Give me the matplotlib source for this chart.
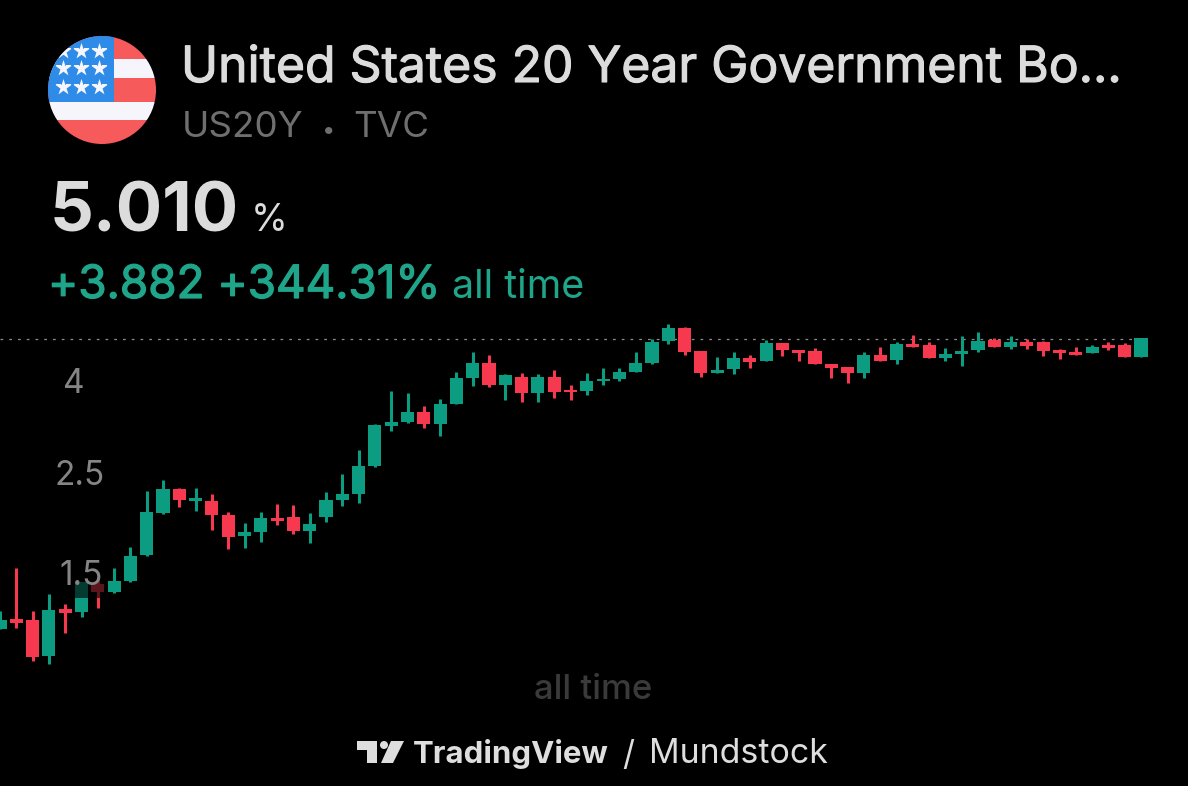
import math
import matplotlib
matplotlib.use('Agg')
import matplotlib.pyplot as plt
import matplotlib.patheffects as pe
from matplotlib.patches import Circle, Rectangle, Polygon

# ---- data (yield, %) ----
highs = [1.250,1.552,1.250,1.361,1.293,1.447,1.526,1.557,1.733,2.304,2.441,2.343,2.336,2.266,2.067,1.960,2.073,2.156,2.148,2.056,2.292,2.513,2.841,3.245,
         3.847,3.802,3.563,3.681,4.233,4.688,4.610,4.183,4.205,4.183,4.270,3.961,4.205,4.327,4.327,4.681,5.018,5.401,5.319,4.719,4.563,4.681,4.624,4.984,
         4.916,4.736,4.785,4.416,4.335,4.695,4.802,4.926,5.106,4.934,4.792,5.087,5.184,5.028,5.087,5.002,4.967,4.753,4.802,4.851,4.926,4.901,5.036]
tops = [1.192,1.196,1.190,1.256,1.259,1.445,1.433,1.457,1.656,2.070,2.331,2.328,2.223,2.193,2.041,1.866,2.004,2.007,2.014,1.950,2.197,2.266,2.622,3.228,
        3.278,3.450,3.455,3.594,4.105,4.425,4.425,4.168,4.126,4.132,4.132,3.867,4.042,4.090,4.239,4.432,4.926,5.308,5.308,4.705,4.283,4.539,4.539,4.916,
        4.916,4.736,4.705,4.416,4.335,4.617,4.610,4.884,4.884,4.866,4.640,4.719,4.951,4.977,4.926,4.926,4.934,4.736,4.681,4.809,4.866,4.851,5.028]
bottoms = [1.138,1.172,0.985,0.990,1.235,1.242,1.373,1.373,1.455,1.664,2.056,2.204,2.193,2.038,1.824,1.828,1.872,1.974,1.875,1.878,2.021,2.197,2.266,2.622,
           3.217,3.278,3.240,3.250,3.600,4.105,3.954,3.961,3.796,3.796,3.821,3.816,3.841,4.042,4.084,4.239,4.425,4.967,4.695,4.205,4.205,4.291,4.454,4.484,
           4.743,4.664,4.409,4.313,4.205,4.205,4.470,4.500,4.809,4.546,4.553,4.633,4.736,4.802,4.802,4.841,4.719,4.671,4.610,4.671,4.792,4.577,4.563]
lows = [1.138,1.142,0.965,0.950,1.114,1.208,1.265,1.366,1.450,1.656,2.049,2.123,2.084,1.891,1.711,1.725,1.773,1.934,1.853,1.767,1.964,2.137,2.167,2.605,
        3.131,3.262,3.184,3.057,3.589,3.934,3.926,3.668,3.631,3.631,3.712,3.668,3.769,3.954,4.036,4.226,4.402,4.884,4.624,4.119,4.205,4.190,4.320,4.484,
        4.593,4.470,4.409,4.098,3.995,4.111,4.470,4.409,4.809,4.539,4.470,4.371,4.688,4.802,4.753,4.760,4.593,4.516,4.610,4.664,4.736,4.577,4.563]
directions = ['g','r','r','g','r','g','r','g','g','g','g','r','g','r','r','g','g','r','r','g','g','g','g','g',
              'g','g','r','g','g','g','r','g','r','g','r','r','g','g','g','g','g','g','r','r','g','g','r','g',
              'r','r','r','r','r','g','r','g','r','r','g','g','g','r','g','r','r','r','r','g','r','r','g']
level_labels = ["4", "2.5", "1.5"]
level_values = [4.0, 2.5, 1.5]
last_price = 5.010

BG = '#000000'
GREEN = '#0c9c82'
RED = '#f6394e'
SANS = ['Inter', 'Roboto', 'DejaVu Sans']

W, H = 1188, 786
fig = plt.figure(figsize=(W / 100, H / 100), dpi=100, facecolor=BG)

# main axes: log price scale, full-bleed
ax = fig.add_axes([0, 0, 1, 1], facecolor=BG)
ax.set_yscale('log')
ax.set_xlim(0, W / 16.3)
ax.set_ylim(last_price * math.exp(-447 / 195.7), last_price * math.exp(339 / 195.7))
ax.axis('off')

ax.axhline(last_price, xmin=0, xmax=1133 / W, color='#8c8c8c', lw=0.9, dashes=(2.2, 4.8), zorder=1)
for i, d in enumerate(directions):
    c = GREEN if d == 'g' else RED
    ax.vlines(i, lows[i], highs[i], color=c, lw=2.2, zorder=2)
    ax.bar(i, tops[i] - bottoms[i], bottom=bottoms[i], width=0.8, color=c, zorder=3, linewidth=0)

# overlay in pixel coordinates
ov = fig.add_axes([0, 0, 1, 1], facecolor='none')
ov.set_xlim(0, W)
ov.set_ylim(H, 0)
ov.axis('off')


def bolder(color, width):
    return [pe.withStroke(linewidth=width, foreground=color)]


# dimming plate behind the 1.5 label
ov.add_patch(Rectangle((55, 548), 50, 50, facecolor='black', alpha=0.62, lw=0, zorder=4))
for lab, val, x in zip(level_labels, level_values, [74, 80, 81]):
    ax_y = ax.transData.transform((0, val))[1]
    ov.text(x, H - ax_y + 1, lab, color='#858585', fontsize=24, family=SANS,
            ha='center', va='center', zorder=5)

# flag
disc = Circle((102, 90), 54, transform=ov.transData, facecolor='none', lw=0)
ov.add_patch(disc)
STRIPE_RED = '#f65a5a'
STRIPE_WHITE = '#f5f5fb'
for (y0, y1, col) in [(36, 59.3, STRIPE_RED), (59.3, 77.7, STRIPE_WHITE), (77.7, 102, STRIPE_RED),
                      (102, 120, STRIPE_WHITE), (120, 145, STRIPE_RED)]:
    r = Rectangle((47, y0), 111, y1 - y0, facecolor=col, lw=0, zorder=6)
    ov.add_patch(r)
    r.set_clip_path(disc)
r = Rectangle((47, 36), 67.3, 66, facecolor='#2e8be8', lw=0, zorder=7)
ov.add_patch(r)
r.set_clip_path(disc)
sc = ov.scatter([63.3, 81, 99, 63.3, 81, 99, 63.3, 81, 99],
                [50.7, 50.7, 50.7, 68.3, 68.3, 68.3, 86.7, 86.7, 86.7],
                marker='*', s=150, color=STRIPE_WHITE, lw=0, zorder=8)
sc.set_clip_path(disc)

# header texts
ov.text(181, 82, "United States 20 Year Government Bo...", color='#dcdcdc', fontsize=35.9,
        family=SANS, va='baseline', zorder=9, path_effects=bolder('#dcdcdc', 0.8))
ov.text(182, 137, "US20Y", color='#6f6f6f', fontsize=26.5, family=SANS, va='baseline', zorder=9)
ov.text(329, 137, "•", color='#6f6f6f', fontsize=17, family=SANS, ha='center', va='baseline', zorder=9)
ov.text(353, 137, "TVC", color='#6f6f6f', fontsize=26.5, family=SANS, va='baseline', zorder=9)
ov.text(50, 232, "5.010", color='#dcdcdc', fontsize=49.5, family=SANS, weight='bold', va='baseline', zorder=9)
ov.text(251, 231, "%", color='#dcdcdc', fontsize=27, family=SANS, va='baseline', zorder=9)
ov.text(48, 298, "+3.882 +344.31%", color='#1fa58a', fontsize=33, family=SANS, va='baseline', zorder=9,
        path_effects=bolder('#1fa58a', 0.9))
ov.text(452, 298, "all time", color='#1fa58a', fontsize=28.4, family=SANS, va='baseline', zorder=9)
ov.text(593, 699, "all time", color='#3a3a3a', fontsize=25, family=SANS, weight='medium',
        ha='center', va='baseline', zorder=9)

# footer
FOOT = '#dedede'
ov.add_patch(Polygon([(357, 741), (377, 741), (377, 763), (367, 763), (367, 750), (357, 750)], facecolor=FOOT, lw=0, zorder=9))
ov.add_patch(Circle((384, 745), 4, facecolor=FOOT, lw=0, zorder=9))
ov.add_patch(Polygon([(391, 741), (404, 741), (393, 763), (381, 763)], facecolor=FOOT, lw=0, zorder=9))
ov.text(413, 763, "TradingView", color=FOOT, fontsize=22.4, family=SANS, weight='bold', va='baseline', zorder=9)
ov.text(622, 765, "/", color=FOOT, fontsize=24, family=SANS, va='baseline', zorder=9)
ov.text(649, 763, "Mundstock", color=FOOT, fontsize=24.4, family=SANS, va='baseline', zorder=9)

fig.savefig('out.png', dpi=100, facecolor=BG)
